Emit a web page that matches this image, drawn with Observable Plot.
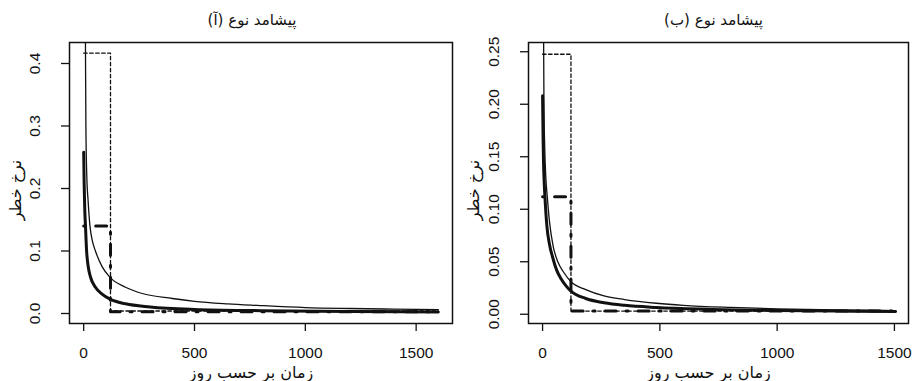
<!DOCTYPE html>
<html><head><meta charset="utf-8">
<script src="https://cdn.jsdelivr.net/npm/d3@7"></script>
<script src="https://cdn.jsdelivr.net/npm/@observablehq/plot@0.6"></script>
<style>
body{margin:0;background:#fff}
#wrap{display:flex;width:913px;height:381px;overflow:hidden}
</style>
</head><body><div id="wrap"></div>
<script>
// ---- texts ----
const titles = ["پیشامد نوع (آ)", "پیشامد نوع (ب)"];
const yLabel = "نرخ خطر";
const xLabel = "زمان بر حسب روز";
// ---- ticks ----
const xTicks = [0, 500, 1000, 1500];
const yTicksA = [0, 0.1, 0.2, 0.3, 0.4];
const yTickLabelsA = ["0.0", "0.1", "0.2", "0.3", "0.4"];
const yTicksB = [0, 0.05, 0.10, 0.15, 0.20, 0.25];
const yTickLabelsB = ["0.00", "0.05", "0.10", "0.15", "0.20", "0.25"];
// ---- panel A series: [day, hazard] ----
const thinA = [[5,0.60],[8,0.43],[10,0.30],[14,0.22],[20,0.18],[28,0.141],[40,0.115],[53,0.100],[83,0.075],[121,0.057],[189,0.042],[264,0.032],[400,0.024],[500,0.0195],[650,0.0155],[783,0.013],[1000,0.0095],[1200,0.008],[1400,0.007],[1600,0.006]];
const thickA = [[0,0.258],[2,0.21],[5,0.165],[8,0.141],[13,0.101],[20,0.076],[31,0.058],[53,0.042],[83,0.031],[121,0.0225],[189,0.0155],[300,0.0105],[500,0.0065],[800,0.0045],[1200,0.0032],[1600,0.0025]];
const dashedA = [[0,0.4165],[121,0.4165],[121,0.004],[1600,0.004]];
const dashdotA = [[0,0.140],[121,0.140],[121,0.003],[1600,0.003]];
// ---- panel B series ----
const thinB = [[3.5,0.40],[4.5,0.26],[6,0.20],[9,0.16],[14,0.13],[20,0.112],[30,0.087],[45,0.065],[65,0.050],[90,0.040],[121,0.031],[184,0.0235],[262,0.0175],[350,0.014],[485,0.0105],[600,0.0085],[800,0.0065],[1000,0.0052],[1250,0.0042],[1505,0.0035]];
const thickB = [[0,0.208],[2,0.17],[4,0.145],[7,0.125],[10,0.112],[18,0.085],[30,0.066],[42,0.055],[60,0.042],[78,0.034],[100,0.027],[121,0.022],[184,0.015],[262,0.011],[350,0.0085],[485,0.0065],[700,0.0048],[1000,0.0036],[1250,0.003],[1505,0.0026]];
const dashedB = [[0,0.2476],[121,0.2476],[121,0.003],[1505,0.003]];
const dashdotB = [[0,0.112],[121,0.112],[121,0.003],[1505,0.003]];

const RLM = "\u200F";
const toObj = a => a.map(([t, h]) => ({t, h}));
const ink = "#111";
const fa = "'DejaVu Sans', sans-serif";

function panel(o) {
  return Plot.plot({
    width: o.width, height: 381,
    marginLeft: o.ml, marginRight: o.mr, marginTop: 42, marginBottom: 58,
    x: {domain: o.xDomain},
    y: {domain: o.yDomain},
    style: {fontFamily: "'Liberation Sans', Arial, sans-serif", fontSize: "15.5px", color: ink, background: "white", overflow: "visible"},
    marks: [
      Plot.line(toObj(o.dashed), {x: "t", y: "h", stroke: ink, strokeWidth: 1.3, strokeDasharray: "3.5,2.5", clip: true}),
      Plot.line(toObj(o.dashdot), {x: "t", y: "h", stroke: ink, strokeWidth: 3, strokeDasharray: "2,10,11,10", strokeLinecap: "round", clip: true}),
      Plot.line(toObj(o.thin), {x: "t", y: "h", curve: "monotone-x", stroke: ink, strokeWidth: 1.3, clip: true}),
      Plot.line(toObj(o.thick), {x: "t", y: "h", curve: "monotone-x", stroke: ink, strokeWidth: 3, clip: true}),
      Plot.frame({stroke: ink, strokeWidth: 1.5}),
      Plot.axisX(xTicks, {tickSize: 8, tickPadding: 15, tickFormat: d => `${d}`, label: null, strokeWidth: 1.3, fontSize: 15.5}),
      Plot.axisY(o.yTicks, {tickSize: 8, tickFormat: () => "", label: null, strokeWidth: 1.3}),
      Plot.text(o.yTicks, {y: d => d, text: (d, i) => o.yTickLabels[i], frameAnchor: "left", dx: -34, rotate: -90, textAnchor: "middle", lineAnchor: "middle", fontSize: 15.5}),
      Plot.text([RLM + yLabel + RLM], {text: d => d, frameAnchor: "left", dx: o.ylabDx, dy: 7, rotate: -90, textAnchor: "middle", lineAnchor: "middle", fontFamily: fa, fontSize: 16}),
      Plot.text([RLM + o.title + RLM], {text: d => d, frameAnchor: "top", dy: -22, dx: o.titleDx, textAnchor: "middle", lineAnchor: "middle", fontFamily: fa, fontSize: 15}),
      Plot.text([RLM + xLabel + RLM], {text: d => d, frameAnchor: "bottom", dy: 49, dx: o.xlabDx, textAnchor: "middle", lineAnchor: "middle", fontFamily: fa, fontSize: 16})
    ]
  });
}

const wrap = document.getElementById("wrap");
wrap.append(panel({
  width: 456, ml: 69, mr: 4, xDomain: [-64, 1664], yDomain: [-0.016, 0.4336],
  yTicks: yTicksA, yTickLabels: yTickLabelsA, title: titles[0],
  thin: thinA, thick: thickA, dashed: dashedA, dashdot: dashdotA,
  titleDx: -9, xlabDx: -10, ylabDx: -54
}));
wrap.append(panel({
  width: 457, ml: 72, mr: 5, xDomain: [-60, 1560], yDomain: [-0.0088, 0.2588],
  yTicks: yTicksB, yTickLabels: yTickLabelsB, title: titles[1],
  thin: thinB, thick: thickB, dashed: dashedB, dashdot: dashdotB,
  titleDx: -5, xlabDx: -10, ylabDx: -55
}));
</script>
</body></html>
